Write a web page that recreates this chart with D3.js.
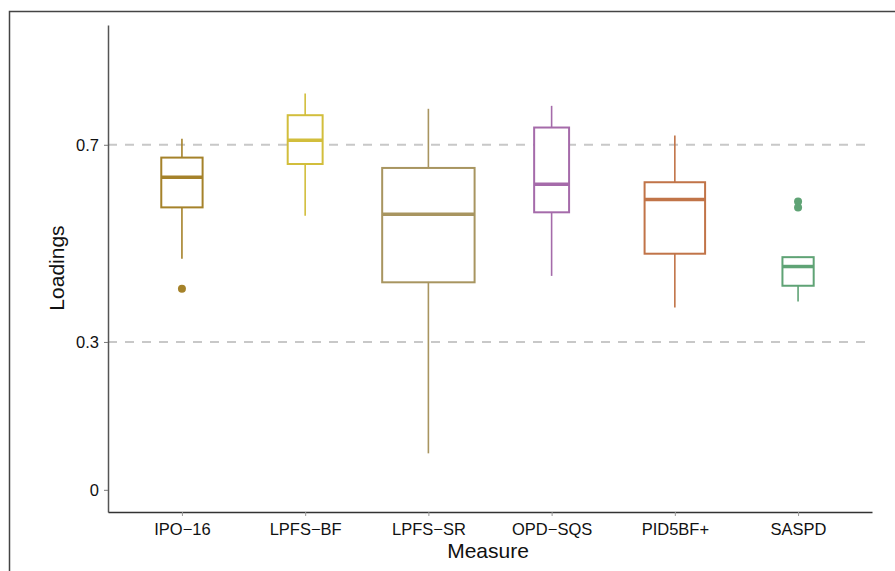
<!DOCTYPE html>
<html>
<head>
<meta charset="utf-8">
<script src="https://cdn.jsdelivr.net/npm/d3@7"></script>
<style>
  body { margin: 0; background: #fff; }
  svg { font-family: "Liberation Sans", Arial, Helvetica, sans-serif; }
</style>
</head>
<body>
<svg id="chart" width="895" height="571"></svg>
<script>
// values
const measures = ["IPO-16", "LPFS-BF", "LPFS-SR", "OPD-SQS", "PID5BF+", "SASPD"];
const whiskerLow = [0.469, 0.556, 0.074, 0.434, 0.370, 0.382];
const q1 = [0.573, 0.661, 0.421, 0.563, 0.479, 0.414];
const median = [0.634, 0.709, 0.559, 0.620, 0.589, 0.453];
const q3 = [0.674, 0.760, 0.653, 0.735, 0.624, 0.472];
const whiskerHigh = [0.712, 0.804, 0.773, 0.779, 0.719, 0.473];
const outliers = [[0.408], [], [], [], [], [0.585, 0.573]];
const sampleSize = [7, 5, 35, 5, 15, 4];
const colors = ["#A5822A", "#D2BE3C", "#A89560", "#A56BAA", "#C17448", "#5FA375"];
const yTicks = [0, 0.3, 0.7];
const refLines = [0.3, 0.7];

const svg = d3.select("#chart");
const plotLeft = 108, plotRight = 872, plotTop = 25, plotBottom = 512;

// outer frame
svg.append("rect")
    .attr("x", 9.5).attr("y", 11.5)
    .attr("width", 900).attr("height", 600)
    .attr("fill", "none")
    .attr("stroke", "#444")
    .attr("stroke-width", 1.5);

const x = d3.scalePoint().domain(measures).range([plotLeft, plotRight]).padding(0.6);
const y = d3.scaleLinear().domain([-0.045, 0.943]).range([plotBottom, plotTop]);
const maxN = d3.max(sampleSize);
const boxW = i => 0.75 * x.step() * Math.sqrt(sampleSize[i] / maxN);

// dashed reference lines
svg.append("g")
    .selectAll("line")
    .data(refLines)
    .join("line")
    .attr("x1", plotLeft).attr("x2", plotRight)
    .attr("y1", d => y(d)).attr("y2", d => y(d))
    .attr("stroke", "#c8c8c8")
    .attr("stroke-width", 2)
    .attr("stroke-dasharray", "9,8");

// y axis
const yAxis = svg.append("g")
    .attr("transform", `translate(${plotLeft},0)`)
    .call(d3.axisLeft(y).tickValues(yTicks).tickFormat(d => d === 0 ? "0" : d3.format(".1f")(d)).tickSize(4).tickSizeOuter(0));
yAxis.select(".domain").attr("stroke", "#555").attr("stroke-width", 1.5);
yAxis.selectAll(".tick line").attr("stroke", "#777");
yAxis.selectAll(".tick text")
    .attr("font-size", "16.5px")
    .attr("font-family", "Liberation Sans, Arial, sans-serif")
    .attr("fill", "#111")
    .attr("x", -9)
    .attr("dy", "0.35em");

// x axis
const xAxis = svg.append("g")
    .attr("transform", `translate(0,${plotBottom})`)
    .call(d3.axisBottom(x).tickSize(4).tickSizeOuter(0));
xAxis.select(".domain").attr("stroke", "#333").attr("stroke-width", 1.5);
xAxis.selectAll(".tick line").attr("stroke", "#999");
xAxis.selectAll(".tick text")
    .text(d => d.replace("-", "\u2212"))
    .attr("font-size", "16.5px")
    .attr("font-family", "Liberation Sans, Arial, sans-serif")
    .attr("fill", "#111")
    .attr("y", 11)
    .attr("dy", "0.71em");

// axis titles
svg.append("text")
    .attr("x", (plotLeft + plotRight) / 2 - 2).attr("y", 558)
    .attr("text-anchor", "middle")
    .attr("font-size", "21px")
    .attr("fill", "#111")
    .text("Measure");
svg.append("text")
    .attr("transform", "translate(64,268) rotate(-90)")
    .attr("text-anchor", "middle")
    .attr("font-size", "21px")
    .attr("fill", "#111")
    .text("Loadings");

// boxes
const box = svg.append("g")
    .selectAll("g")
    .data(measures.map((m, i) => i))
    .join("g");

box.append("line")
    .attr("x1", i => x(measures[i])).attr("x2", i => x(measures[i]))
    .attr("y1", i => y(whiskerHigh[i])).attr("y2", i => y(q3[i]))
    .attr("stroke", i => colors[i]).attr("stroke-width", 1.6);
box.append("line")
    .attr("x1", i => x(measures[i])).attr("x2", i => x(measures[i]))
    .attr("y1", i => y(q1[i])).attr("y2", i => y(whiskerLow[i]))
    .attr("stroke", i => colors[i]).attr("stroke-width", 1.6);
box.append("rect")
    .attr("x", i => x(measures[i]) - boxW(i) / 2)
    .attr("width", i => boxW(i))
    .attr("y", i => y(q3[i]))
    .attr("height", i => y(q1[i]) - y(q3[i]))
    .attr("fill", "#fff")
    .attr("stroke", i => colors[i])
    .attr("stroke-width", 2);
box.append("line")
    .attr("x1", i => x(measures[i]) - boxW(i) / 2)
    .attr("x2", i => x(measures[i]) + boxW(i) / 2)
    .attr("y1", i => y(median[i])).attr("y2", i => y(median[i]))
    .attr("stroke", i => colors[i]).attr("stroke-width", 3.5);
box.selectAll("circle")
    .data(i => outliers[i].map(v => ({v, i})))
    .join("circle")
    .attr("cx", d => x(measures[d.i]))
    .attr("cy", d => y(d.v))
    .attr("r", 4)
    .attr("fill", d => colors[d.i]);
</script>
</body>
</html>
